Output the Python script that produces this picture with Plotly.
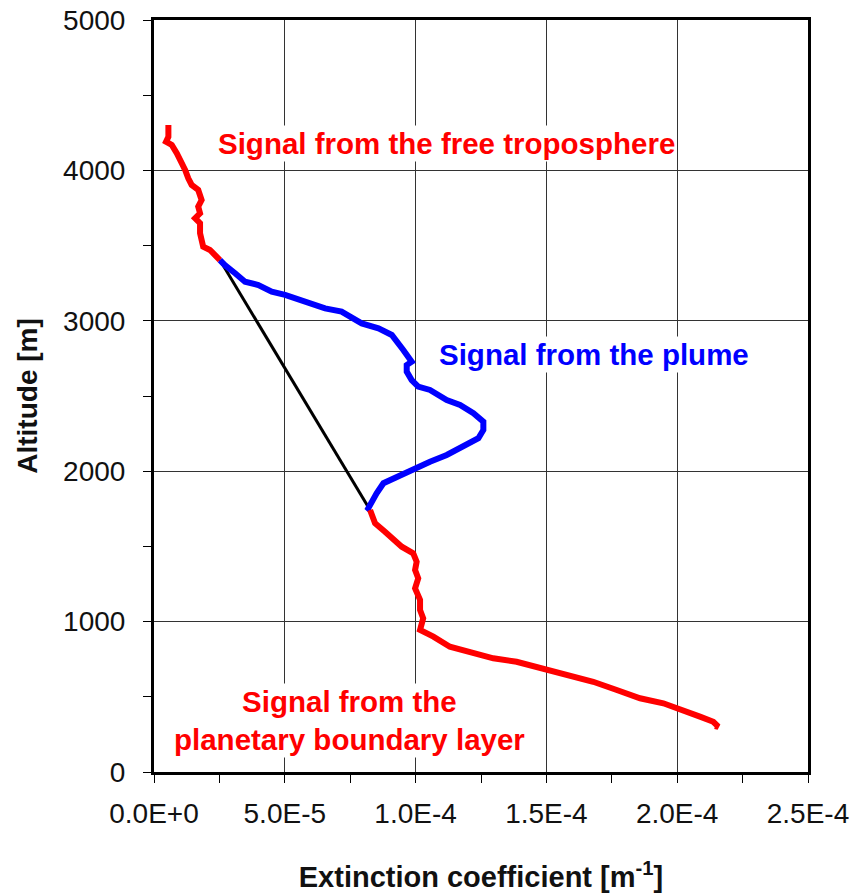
import plotly.graph_objects as go

# Extinction profile segments (x in units of 1e-5 m^-1, altitude in m)
free_trop_x = [0.55, 0.55, 0.46, 0.68, 0.87, 1.12, 1.19, 1.31, 1.44, 1.69, 1.82, 1.69,
               1.76, 1.57, 1.76, 1.76, 1.82, 1.88, 2.14, 2.33, 2.52]
free_trop_y = [4302, 4224, 4191, 4169, 4114, 4036, 4003, 3947, 3903, 3870, 3803, 3759,
               3715, 3682, 3649, 3582, 3526, 3493, 3471, 3437, 3404]

plume_x = [2.52, 2.71, 3.10, 3.48, 3.99, 4.50, 5.01, 5.39, 5.90, 6.54, 7.17, 7.56,
           7.94, 8.58, 9.09, 9.53, 9.85, 9.66, 9.66, 9.85, 10.10, 10.55, 11.19,
           11.70, 12.21, 12.59, 12.59, 12.40, 11.83, 11.19, 10.55, 9.98, 9.40,
           8.77, 8.51, 8.26, 8.19, 8.26]
plume_y = [3404, 3370, 3316, 3260, 3238, 3194, 3172, 3150, 3116, 3083, 3061, 3027,
           2983, 2950, 2906, 2806, 2728, 2706, 2662, 2606, 2562, 2540, 2473,
           2440, 2385, 2329, 2274, 2219, 2163, 2108, 2063, 2019, 1975,
           1920, 1853, 1787, 1753, 1742]

pbl_x = [8.26, 8.45, 8.83, 9.09, 9.47, 9.91, 10.04, 9.98, 10.10, 9.98, 10.17, 10.17,
         10.29, 10.17, 10.68, 11.31, 11.95, 12.97, 13.86, 14.76, 15.65, 16.79,
         17.69, 18.58, 19.47, 20.11, 20.87, 21.38, 21.57, 21.44]
pbl_y = [1742, 1654, 1598, 1554, 1498, 1454, 1398, 1343, 1288, 1221, 1144, 1077,
         1022, 944, 900, 833, 800, 756, 733, 690, 645, 600,
         545, 490, 457, 412, 368, 334, 301, 306]

x_tick_vals = [0, 5e-5, 1e-4, 1.5e-4, 2e-4, 2.5e-4]
x_tick_text = ["0.0E+0", "5.0E-5", "1.0E-4", "1.5E-4", "2.0E-4", "2.5E-4"]
y_tick_vals = [0, 1000, 2000, 3000, 4000, 5000]

SCALE = 1e-5
RED = "#ff0000"
BLUE = "#0000ff"
FONT = "Liberation Sans, Arial, sans-serif"


def sc(vals):
    return [v * SCALE for v in vals]


fig = go.Figure()

# straight background line bridging the plume layer
fig.add_trace(go.Scatter(
    x=sc([free_trop_x[-1], pbl_x[0]]), y=[free_trop_y[-1], pbl_y[0]],
    mode="lines", line=dict(color="black", width=3), showlegend=False))

fig.add_trace(go.Scatter(x=sc(free_trop_x), y=free_trop_y, mode="lines",
                         line=dict(color=RED, width=6), showlegend=False))
fig.add_trace(go.Scatter(x=sc(plume_x), y=plume_y, mode="lines",
                         line=dict(color=BLUE, width=6), showlegend=False))
fig.add_trace(go.Scatter(x=sc(pbl_x), y=pbl_y, mode="lines",
                         line=dict(color=RED, width=6), showlegend=False))

ann_font = dict(family=FONT, size=29.5)
fig.add_annotation(x=1.12e-4, y=4182, text="<b>Signal from the free troposphere</b>",
                   showarrow=False, font=dict(color=RED, **ann_font), bgcolor="white")
fig.add_annotation(x=1.682e-4, y=2773, text="<b>Signal from the plume</b>",
                   showarrow=False, font=dict(color=BLUE, **ann_font), bgcolor="white")
fig.add_annotation(x=7.49e-5, y=340,
                   text="<b>Signal from the<br>planetary boundary layer</b>",
                   showarrow=False, font=dict(color=RED, **ann_font), bgcolor="white",
                   align="center")

axis_font = dict(family=FONT, size=28, color="#111")
title_font = dict(family=FONT, size=28, color="#111")

fig.update_xaxes(
    range=[0, 2.5e-4], tickvals=x_tick_vals, ticktext=x_tick_text,
    showgrid=True, gridcolor="#333", gridwidth=1,
    showline=True, linecolor="black", linewidth=3, mirror=True,
    ticks="outside", ticklen=8, tickcolor="black", tickwidth=1,
    minor=dict(dtick=2.5e-5, tick0=0, ticks="outside", ticklen=8,
               tickcolor="black", tickwidth=1, showgrid=False),
    tickfont=axis_font, ticklabelstandoff=6, automargin=False,
    title=dict(text="<b>Extinction coefficient [m<sup>-1</sup>]</b>",
               font=dict(family=FONT, size=29, color="#111"), standoff=40),
    zeroline=False,
)
fig.update_yaxes(
    range=[0, 5000], tickvals=y_tick_vals, tickformat="d",
    showgrid=True, gridcolor="#333", gridwidth=1,
    showline=True, linecolor="black", linewidth=3, mirror=True,
    ticks="outside", ticklen=8, tickcolor="black", tickwidth=1,
    minor=dict(dtick=500, tick0=0, ticks="outside", ticklen=8,
               tickcolor="black", tickwidth=1, showgrid=False),
    tickfont=axis_font, ticklabelstandoff=12, automargin=False,
    title=dict(text="<b>Altitude [m]</b>", font=title_font, standoff=18),
    zeroline=False,
)

fig.update_layout(
    width=862, height=894,
    margin=dict(l=154, r=54, t=20, b=122),
    paper_bgcolor="white", plot_bgcolor="white",
)

fig.write_html("out.html")
